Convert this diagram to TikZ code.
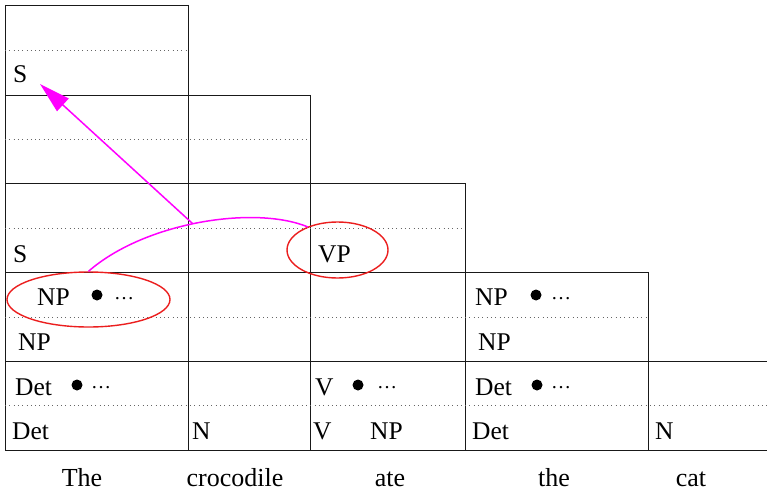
\documentclass[tikz,border=0pt]{standalone}
\usepackage{fontspec}
\setmainfont{Liberation Serif}
\usetikzlibrary{shapes.geometric,arrows.meta}
\definecolor{mag}{RGB}{255,0,255}
\definecolor{ellred}{RGB}{235,30,30}
\begin{document}
\begin{tikzpicture}[x=1pt,y=-1pt,
  grid/.style={line width=0.9pt,black!90},
  dotline/.style={line width=0.9pt,black!60,dash pattern=on 0.9pt off 3.4pt},
  lbl/.style={anchor=base west,inner sep=0pt,font=\fontsize{25.5}{30}\selectfont},
  word/.style={anchor=base,inner sep=0pt,font=\fontsize{26}{30}\selectfont},
  dts/.style={anchor=base west,inner sep=0pt,font=\fontsize{20}{20}\selectfont},
  dotmark/.style={circle,fill=black,inner sep=0pt,minimum size=11pt},
  ell/.style={ellipse,draw=ellred,line width=1.4pt,inner sep=0pt},
  magline/.style={mag,line width=1.5pt}
]
\useasboundingbox (0,0) rectangle (767,492);
% solid grid
\draw[grid] (5,5) -- (188,5);
\draw[grid] (5,95) -- (310,95);
\draw[grid] (5,183) -- (465,183);
\draw[grid] (5,272) -- (648,272);
\draw[grid] (5,361) -- (767,361);
\draw[grid] (5,450) -- (767,450);
\draw[grid] (5,5) -- (5,450);
\draw[grid] (188,5) -- (188,450);
\draw[grid] (310,95) -- (310,450);
\draw[grid] (465,183) -- (465,450);
\draw[grid] (648,272) -- (648,450);
% dotted lines
\draw[dotline] (5,50) -- (188,50);
\draw[dotline] (5,139) -- (310,139);
\draw[dotline] (5,228) -- (465,228);
\draw[dotline] (5,317) -- (648,317);
\draw[dotline] (5,405.5) -- (767,405.5);
% labels
\node[lbl] (s0) at (13,83) {S};
\node[lbl] (s2) at (13,262) {S};
\node[lbl] (vp) at (318,262) {VP};
\node[lbl] (np30) at (37,305) {NP};
\node[dotmark] (b30) at (97,295) {};
\node[dts] (d30) at (114,299.5) {…};
\node[lbl] (np30b) at (18,350) {NP};
\node[lbl] (np33) at (475,305) {NP};
\node[dotmark] (b33) at (536,295) {};
\node[dts] (d33) at (551,299.5) {…};
\node[lbl] (np33b) at (478,350) {NP};
\node[lbl] (det40) at (15,395) {Det};
\node[dotmark] (b40) at (77,385) {};
\node[dts] (d40) at (91,388.5) {…};
\node[lbl] (v42) at (315,395) {V};
\node[dotmark] (b42) at (358,385) {};
\node[dts] (d42) at (377,388.5) {…};
\node[lbl] (det43) at (475,395) {Det};
\node[dotmark] (b43) at (537,385) {};
\node[dts] (d43) at (551,388.5) {…};
\node[lbl] (det40b) at (12,439) {Det};
\node[lbl] (n41b) at (192,439) {N};
\node[lbl] (v42b) at (313,439) {V};
\node[lbl] (np42b) at (370,439) {NP};
\node[lbl] (det43b) at (472,439) {Det};
\node[lbl] (n44b) at (655,439) {N};
% words
\node[word] (w0) at (82,486) {The};
\node[word] (w1) at (235,486) {crocodile};
\node[word] (w2) at (390,486) {ate};
\node[word] (w3) at (554,486) {the};
\node[word] (w4) at (691,486) {cat};
% ellipses
\node[ell,minimum width=163pt,minimum height=55pt] (npE) at (88.5,299.5) {};
\node[ell,minimum width=101pt,minimum height=56pt] (vpE) at (337.5,250) {};
% magenta connectors
\coordinate (vpPt) at (308,227);
\coordinate (br) at (192.5,223.5);
\coordinate (stip) at (40,84);
\draw[magline] (npE.north) .. controls (145,222) and (255,205) .. (vpPt);
\draw[magline,-{Triangle[length=31pt,width=17pt]}] (br) -- (stip);
\end{tikzpicture}
\end{document}
